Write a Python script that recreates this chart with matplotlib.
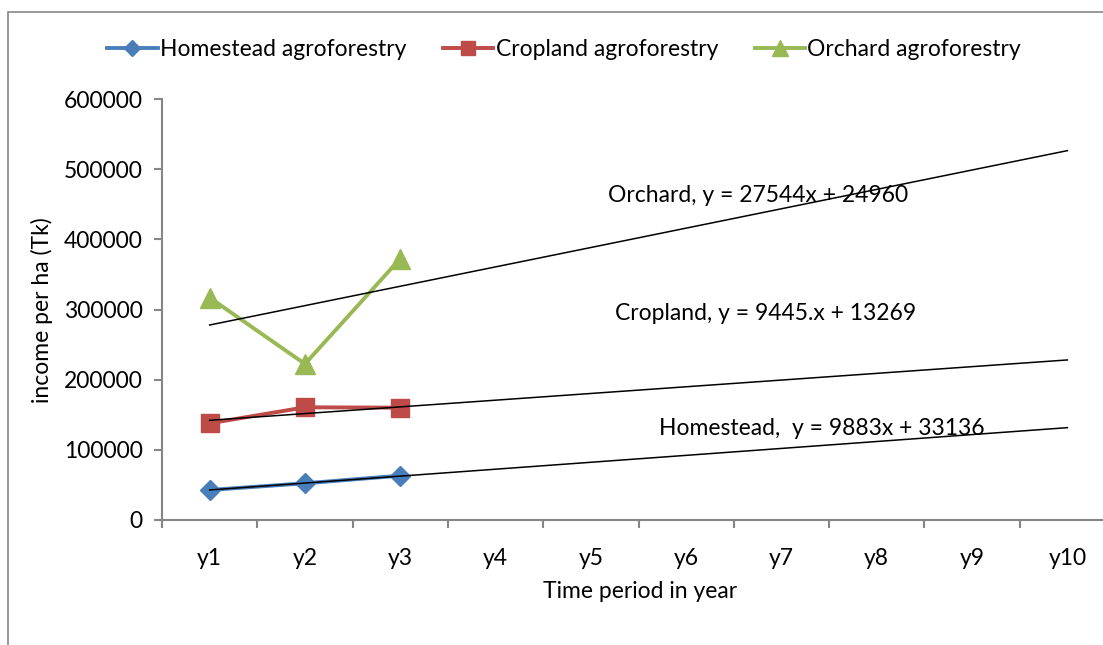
import numpy as np
import matplotlib
matplotlib.use("Agg")
import matplotlib.pyplot as plt
from matplotlib.patches import Rectangle

plt.rcParams['font.family'] = ['Lato', 'DejaVu Sans']

years = ["y1", "y2", "y3", "y4", "y5", "y6", "y7", "y8", "y9", "y10"]
homestead = [42800, 52300, 63200]
cropland = [137800, 160600, 160100]
orchard = [316900, 222400, 372500]

# trend lines, value at y1 and at y10
trend_home = [42800, 131600]
trend_crop = [142100, 228100]
trend_orch = [277900, 526400]

eq_labels = ["Orchard, y = 27544x + 24960",
             "Cropland, y = 9445.x + 13269",
             "Homestead,  y = 9883x + 33136"]
eq_pos = [(5.18, 463000), (5.25, 295000), (5.71, 131000)]

blue = "#4A7EBB"
red = "#BE4B48"
green = "#98B954"
gray = "#868686"
fs = 16.5

fig = plt.figure(figsize=(11.03, 6.45), dpi=100)
ax = fig.add_axes([162 / 1103, (645 - 520) / 645, (1115 - 162) / 1103, 421 / 645])

x = np.arange(1, 11)
ax.plot(x[:3], homestead, color=blue, lw=2.8, marker="D", ms=10, label="Homestead agroforestry")
ax.plot(x[:3], cropland, color=red, lw=2.8, marker="s", ms=13, label="Cropland agroforestry")
ax.plot(x[:3], orchard, color=green, lw=2.8, marker="^", ms=14, label="Orchard agroforestry")

for t in [trend_home, trend_crop, trend_orch]:
    ax.plot([1, 10], t, color="black", lw=1.1)

for lab, (px, py) in zip(eq_labels, eq_pos):
    ax.text(px, py, lab, fontsize=fs, va="center", ha="left")

ax.set_xlim(0.5, 10.5)
ax.set_ylim(0, 600000)
ax.set_yticks(np.arange(0, 600001, 100000))
ax.set_yticklabels([str(v) for v in range(0, 600001, 100000)], fontsize=fs)
ax.set_xticks(x)
ax.set_xticklabels(years, fontsize=fs)
ax.set_xticks(np.arange(0.5, 11, 1), minor=True)
ax.tick_params(axis="x", which="major", length=0, pad=20)
ax.tick_params(axis="x", which="minor", length=6, width=1.5, color=gray)
ax.tick_params(axis="y", length=6, width=1.5, color=gray, pad=8)

for s in ["top", "right"]:
    ax.spines[s].set_visible(False)
for s in ["left", "bottom"]:
    ax.spines[s].set_color(gray)
    ax.spines[s].set_linewidth(1.5)

fig.text(42 / 1103, 1 - 310 / 645, "income per ha (Tk)", fontsize=fs, rotation=90,
         ha="center", va="center")
fig.text(640 / 1103, 1 - 591 / 645, "Time period in year", fontsize=fs, ha="center", va="center")

fig.legend(loc="center", bbox_to_anchor=(564 / 1103, 1 - 50 / 645), ncol=3, frameon=False,
           fontsize=fs, handlelength=2.2, handletextpad=0.1, columnspacing=1.6, markerscale=0.8)

fig.patches.append(Rectangle((8 / 1103, -0.1), 1.2, 1 - 12 / 645 + 0.1, transform=fig.transFigure,
                             fill=False, edgecolor=gray, lw=1.2))

fig.savefig("out.png", dpi=100)
